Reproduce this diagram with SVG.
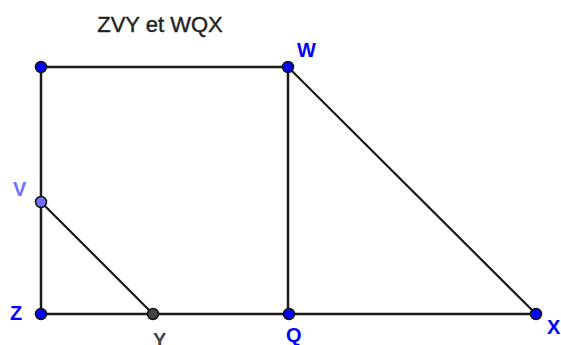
<svg xmlns="http://www.w3.org/2000/svg" width="561" height="345" viewBox="0 0 561 345">
<style>
.ln{stroke:#1a1a1a;stroke-width:2.5;fill:none;stroke-linecap:round}
.dg{stroke:#1a1a1a;stroke-width:2.2;fill:none}
.pt{stroke:#111;stroke-width:1.5}
.lb{font-family:"Liberation Sans",Arial,sans-serif;font-weight:bold;font-size:20px}
</style>
<rect width="561" height="345" fill="#fff"/>
<text x="160" y="32" text-anchor="middle" font-family="Liberation Sans, Arial, sans-serif" font-size="22" fill="#222" stroke="#222" stroke-width="0.4">ZVY et WQX</text>
<g id="connectors">
<line class="ln" x1="41" y1="67" x2="41" y2="314"/>
<line class="ln" x1="41" y1="67" x2="288" y2="67"/>
<line class="ln" x1="288" y1="67" x2="288" y2="314"/>
<line class="ln" x1="41" y1="314" x2="536" y2="314" stroke="#333"/>
<line class="dg" x1="41" y1="202" x2="153" y2="314"/>
<line class="dg" x1="288" y1="67" x2="536" y2="314"/>
</g>
<g id="node-top"><circle class="pt" cx="41" cy="67" r="5.5" fill="#0000ff"/></g>
<g id="node-W"><circle class="pt" cx="288" cy="67" r="5.5" fill="#0000ff"/><text class="lb" x="297" y="57" font-size="21" fill="#0000ff">W</text></g>
<g id="node-V"><circle class="pt" cx="41" cy="202" r="5.5" fill="#7070ff"/><text class="lb" x="13" y="196" fill="#7070ff">V</text></g>
<g id="node-Z"><circle class="pt" cx="41" cy="314" r="5.5" fill="#0000ff"/><text class="lb" x="10" y="320" fill="#0000ff">Z</text></g>
<g id="node-Y"><circle class="pt" cx="153" cy="314" r="5.5" fill="#444"/><text class="lb" x="153" y="347" fill="#444">Y</text></g>
<g id="node-Q"><circle class="pt" cx="289" cy="314" r="5.5" fill="#0000ff"/><text class="lb" x="286" y="342" fill="#0000ff">Q</text></g>
<g id="node-X"><circle class="pt" cx="536" cy="314" r="5.5" fill="#0000ff"/><text class="lb" x="547" y="334" fill="#0000ff">X</text></g>
</svg>
